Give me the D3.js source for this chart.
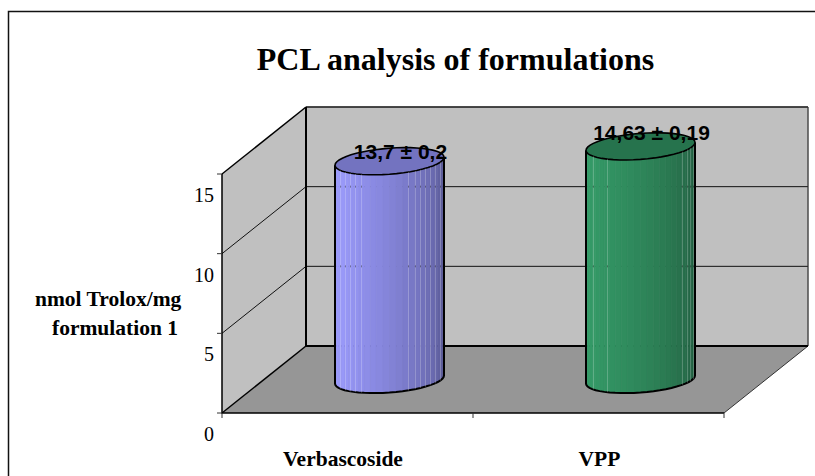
<!DOCTYPE html>
<html><head><meta charset="utf-8">
<script src="https://cdn.jsdelivr.net/npm/d3@7"></script>
<style>html,body{margin:0;padding:0;background:#fff}svg{display:block}</style>
</head><body><svg id="c" width="815" height="476"></svg>
<script>
const categories = ["Verbascoside", "VPP"];
const values = [13.7, 14.63];
const valueLabels = ["13,7 \u00b1 0,2", "14,63 \u00b1 0,19"];
const yTicks = [0, 5, 10, 15];
const titleText = "PCL analysis of formulations";
const yTitleLines = ["nmol Trolox/mg", "formulation 1"];
const sideColors = [["#9c9cff", "#565690"], ["#359d69", "#215c3f"]];
const topColors = ["#7373c0", "#26734d"];
const facetEdges = [
  [-0.9, -0.82, -0.72, -0.63, -0.53, 0.34, 0.47, 0.56, 0.65, 0.74, 0.83, 0.93],
  [-0.87, -0.62, 0.77, 0.86, 0.91, 0.96]
];

const svg = d3.select("#c");
const serif = "'Liberation Serif','Times New Roman',serif";
const sans = "'Liberation Sans',Arial,sans-serif";
const x = d3.scaleBand().domain(categories).range([222, 724]);
const y = d3.scaleLinear().domain([0, 15]).range([413, 174]);
const dx = 84, dy = -67;
const L = x.range()[0], R = x.range()[1], Y0 = y(0), Yt = y(15);

// chart frame
svg.append("path").attr("d", `M8.5 476V11.5H815`).attr("fill", "none").attr("stroke", "#111").attr("stroke-width", 1.5);

// title
svg.append("text").text(titleText).attr("x", 455.5).attr("y", 70).attr("text-anchor", "middle")
  .attr("font-family", serif).attr("font-weight", "bold").attr("font-size", 32);

// walls
const poly = p => "M" + p.map(a => a.join(" ")).join("L") + "Z";
svg.append("path").attr("d", poly([[L+dx,Yt+dy],[R+dx,Yt+dy],[R+dx,Y0+dy],[L+dx,Y0+dy]])).attr("fill", "#c0c0c0").attr("stroke", "#808080");
svg.append("path").attr("d", poly([[L,Yt],[L+dx,Yt+dy],[L+dx,Y0+dy],[L,Y0]])).attr("fill", "#c0c0c0");
svg.append("path").attr("d", poly([[L,Y0],[R,Y0],[R+dx,Y0+dy],[L+dx,Y0+dy]])).attr("fill", "#969696");

// gridlines
yTicks.slice(1, 3).forEach(t => {
  svg.append("path").attr("d", `M${L} ${y(t)}L${L+dx} ${y(t)+dy}L${R+dx} ${y(t)+dy}`)
    .attr("fill", "none").attr("stroke", "#111").attr("stroke-width", 1);
});
const line = (d, w, c) => svg.append("path").attr("d", d).attr("fill", "none").attr("stroke", c || "#000").attr("stroke-width", w);
line(`M${L+dx} ${Yt+dy}H${R+dx}`, 1.5, "#222");
line(`M${R+dx} ${Yt+dy}V${Y0+dy}L${R} ${Y0}`, 1, "#333");
line(`M${L+dx} ${Yt+dy}V${Y0+dy}H${R+dx}`, 2);
line(`M${L} ${Yt}L${L+dx} ${Yt+dy}`, 1.5);
line(`M${L} ${Y0}L${L+dx} ${Y0+dy}`, 1.5);
line(`M${L} ${Yt}V${Y0}H${R}`, 1.5);

// y ticks and labels
yTicks.forEach(t => {
  line(`M${L-5} ${y(t)}H${L}`, 1, "#333");
  svg.append("text").text(t).attr("x", 214).attr("y", y(t) + 28).attr("text-anchor", "end")
    .attr("font-family", serif).attr("font-size", 20);
});
// x ticks and labels
[L, x("VPP"), R].forEach(v => line(`M${v} ${Y0}V${Y0+5}`, 1, "#333"));
categories.forEach(c => {
  svg.append("text").text(c).attr("x", x(c) + x.bandwidth()/2 - 4.5 + (c === "VPP" ? 5.5 : 0)).attr("y", 466).attr("text-anchor", "middle")
    .attr("font-family", serif).attr("font-weight", "bold").attr("font-size", 21.5);
});
// y title
yTitleLines.forEach((s, i) => {
  svg.append("text").text(s).attr("x", i ? 52 : 35).attr("y", i ? 335 : 306)
    .attr("font-family", serif).attr("font-weight", "bold").attr("font-size", 21.5);
});

// cylinders
const rx = 54.5, ry = 13, shear = 4, n = 26;
const midX = dx/2, midY = dy/2;
const ell = (cx, cy, t) => [cx + rx*Math.cos(t), cy + ry*Math.sin(t) - shear*Math.cos(t)];
values.forEach((v, i) => {
  const c = categories[i];
  const cx = x(c) + x.bandwidth()/2 + midX;
  const by = y(0) + midY, ty = y(v) + midY;
  const ramp = d3.interpolateRgb(sideColors[i][0], sideColors[i][1]);
  const g = svg.append("g");
  d3.range(n).forEach(k => {
    const a0 = Math.PI - k*Math.PI/n, a1 = Math.PI - (k+1)*Math.PI/n;
    const f = Math.pow(k/(n-1), 1.5);
    const p0 = ell(cx, by, a0), p1 = ell(cx, by, a1), q0 = ell(cx, ty, a0), q1 = ell(cx, ty, a1);
    g.append("path").attr("d", poly([q0, q1, p1, p0])).attr("fill", ramp(f)).attr("stroke", ramp(f)).attr("stroke-width", .6);
  });
  // lighter facet edges, with the gridlines glinting through
  facetEdges[i].forEach(e => {
    const a = Math.acos(e);
    const p = ell(cx, by, a), q = ell(cx, ty, a);
    const px = Math.round(p[0]) + .5;
    line(`M${px} ${q[1]}V${p[1]}`, 1, "rgba(255,255,255,.22)");
    [5, 10].forEach(t => line(`M${px} ${y(t)+dy-1}v2`, 1, "rgba(0,0,0,.35)"));
  });
  const outline = d3.line().curve(d3.curveLinearClosed);
  const bottom = d3.range(0, n+1).map(k => ell(cx, by, Math.PI - k*Math.PI/n));
  const leftT = ell(cx, ty, Math.PI), rightT = ell(cx, ty, 0);
  g.append("path").attr("d", "M" + leftT.join(" ") + "L" + bottom.map(a => a.join(" ")).join("L") + "L" + rightT.join(" "))
    .attr("fill", "none").attr("stroke", "#000").attr("stroke-width", 2);
  const top = d3.range(48).map(k => ell(cx, ty, k*Math.PI/24));
  g.append("path").attr("d", outline(top)).attr("fill", topColors[i]).attr("stroke", "#000").attr("stroke-width", 1.6);
  svg.append("text").text(valueLabels[i]).attr("x", cx + 11).attr("y", ty - (i ? 6 : 2)).attr("text-anchor", "middle")
    .attr("font-family", sans).attr("font-weight", "bold").attr("font-size", 21).attr("fill", "#000");
});
</script></body></html>
